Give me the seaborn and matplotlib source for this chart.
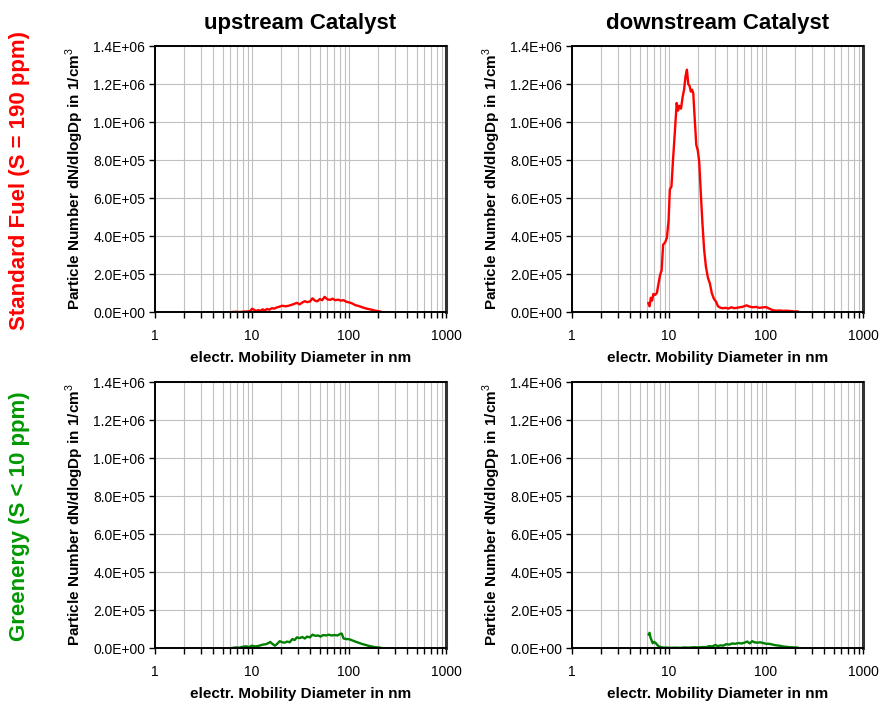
import matplotlib
matplotlib.use("Agg")
import matplotlib.pyplot as plt
from matplotlib.ticker import FuncFormatter, LogLocator, NullFormatter, MultipleLocator
import numpy as np
import pandas as pd
import seaborn as sns

# Particle size distributions (dN/dlogDp in 1/cm^3) vs. mobility diameter (nm)
std_up_d = [6.2, 6.8, 7.5, 8.2, 9.0, 9.6, 10.0, 10.5, 11.0, 11.6, 12.2, 12.9, 13.6, 14.3,
            15.1, 16, 17, 18, 19.2, 20.5, 22, 23.5, 25, 27, 29, 31, 33, 35, 37, 39.5, 42,
            44.5, 47, 50, 53, 56, 60, 64, 68, 72, 77, 82, 88, 94, 101, 108, 116, 125, 135,
            146, 158, 171, 186, 202, 214]
std_up_n = [0, 1e3, 0, 2e3, 3e3, 5e3, 17e3, 12e3, 5e3, 10e3, 6e3, 14e3, 8e3, 16e3,
            12e3, 20e3, 18e3, 24e3, 28e3, 33e3, 30e3, 32e3, 36e3, 42e3, 48e3, 40e3, 50e3,
            57e3, 52e3, 55e3, 72e3, 60e3, 56e3, 68e3, 62e3, 80e3, 66e3, 64e3, 70e3, 62e3,
            65e3, 60e3, 62e3, 54e3, 50e3, 45e3, 36e3, 32e3, 26e3, 20e3, 16e3, 12e3, 7e3,
            4e3, 2e3]

std_down_d = [6.1, 6.3, 6.5, 6.7, 6.9, 7.2, 7.5, 7.8, 8.1, 8.4, 8.7, 9.1, 9.5, 9.9, 10.2,
              10.6, 11.0, 11.5, 12.0, 12.4, 12.8, 13.3, 13.8, 14.3, 14.8, 15.3, 15.8, 16.3,
              16.8, 17.3, 17.8, 18.4, 19.1, 19.8, 20.5, 21.3, 22.1, 23.0, 24.0, 25.2, 26.4,
              27.6, 29.0, 30.5, 32.0, 34, 36, 38.5, 41, 44, 47, 50, 54, 58, 63, 68, 73, 79,
              85, 92, 100, 108, 117, 127, 138, 150, 163, 178, 195, 214]
std_down_n = [48e3, 30e3, 75e3, 60e3, 95e3, 90e3, 100e3, 150e3, 195e3, 220e3, 355e3,
              365e3, 390e3, 480e3, 645e3, 660e3, 800e3, 950e3, 1.10e6, 1.06e6, 1.085e6,
              1.07e6, 1.13e6, 1.17e6, 1.24e6, 1.275e6, 1.20e6, 1.19e6, 1.16e6, 1.17e6,
              1.15e6, 1.02e6, 880e3, 850e3, 790e3, 620e3, 470e3, 330e3, 240e3, 180e3,
              150e3, 100e3, 70e3, 55e3, 30e3, 22e3, 20e3, 22e3, 18e3, 25e3, 20e3, 22e3,
              25e3, 28e3, 35e3, 28e3, 25e3, 27e3, 22e3, 24e3, 26e3, 18e3, 10e3, 7e3, 8e3,
              6e3, 7e3, 5e3, 3e3, 3e3]

green_up_d = [6.2, 6.8, 7.4, 8.0, 8.7, 9.3, 10.0, 10.7, 11.4, 12.2, 13.0, 13.9, 14.8, 15.4,
              16.2, 17.2, 18.2, 19.3, 20.5, 21.8, 23.0, 24.5, 26.0, 27.5, 29, 31, 33, 35,
              37, 39.5, 42, 45, 48, 51, 54, 58, 62, 66, 71, 76, 81, 84, 88, 94, 101, 108,
              116, 125, 135, 146, 158, 171, 186, 202, 214]
green_up_n = [0, 3e3, 2e3, 6e3, 9e3, 5e3, 12e3, 8e3, 10e3, 14e3, 18e3, 20e3, 26e3, 32e3,
              22e3, 12e3, 22e3, 36e3, 30e3, 28e3, 34e3, 30e3, 47e3, 42e3, 56e3, 52e3, 58e3,
              50e3, 60e3, 56e3, 70e3, 64e3, 66e3, 60e3, 68e3, 66e3, 70e3, 66e3, 68e3, 66e3,
              74e3, 76e3, 50e3, 47e3, 46e3, 40e3, 34e3, 28e3, 22e3, 17e3, 12e3, 8e3, 4e3,
              3e3, 1e3]

green_down_d = [6.15, 6.3, 6.45, 6.6, 6.8, 7.0, 7.3, 7.6, 7.9, 8.3, 8.8, 9.5, 10.5, 11.5,
                13, 14.5, 16, 18, 20, 22, 24, 26, 28, 30, 32, 34, 36, 39, 42, 45, 48, 52,
                56, 60, 64, 68, 72, 76, 81, 87, 94, 101, 108, 117, 127, 138, 150, 163, 178,
                195, 214]
green_down_n = [70e3, 80e3, 55e3, 42e3, 25e3, 32e3, 26e3, 15e3, 8e3, 4e3, 2e3, 2e3, 1e3,
                2e3, 1e3, 3e3, 2e3, 4e3, 3e3, 5e3, 4e3, 10e3, 8e3, 16e3, 10e3, 14e3, 12e3,
                20e3, 18e3, 24e3, 22e3, 26e3, 24e3, 28e3, 34e3, 24e3, 36e3, 30e3, 28e3,
                30e3, 26e3, 22e3, 22e3, 18e3, 14e3, 12e3, 8e3, 6e3, 4e3, 3e3, 2e3]

col_titles = ["upstream Catalyst", "downstream Catalyst"]
row_titles = ["Standard Fuel (S = 190 ppm)", "Greenergy (S < 10 ppm)"]
x_ticks = [1, 10, 100, 1000]
x_tick_labels = ["1", "10", "100", "1000"]
x_label = "electr. Mobility Diameter in nm"
y_label = "Particle Number dN/dlogDp in 1/cm$^3$"

RED = "#FF0000"
GREEN_LINE = "#008000"
GREEN_TEXT = "#009900"

sns.set_theme(style="white")
plt.rcParams["font.family"] = ["Liberation Sans", "DejaVu Sans"]
plt.rcParams["mathtext.fontset"] = "custom"
plt.rcParams["mathtext.rm"] = "Liberation Sans"
plt.rcParams["mathtext.bf"] = "Liberation Sans:bold"
for key in ("text.color", "axes.labelcolor", "xtick.color", "ytick.color",
            "axes.titlecolor"):
    plt.rcParams[key] = "black"

fig = plt.figure(figsize=(8.8, 7.07), dpi=100)

panels = [
    (0, 0, std_up_d, std_up_n, RED),
    (0, 1, std_down_d, std_down_n, RED),
    (1, 0, green_up_d, green_up_n, GREEN_LINE),
    (1, 1, green_down_d, green_down_n, GREEN_LINE),
]

lefts = [155 / 880, 572 / 880]
bottoms = [1 - 312 / 707, 1 - 648 / 707]
w = 291 / 880
h = 266 / 707

for r, c, d, n, color in panels:
    ax = fig.add_axes([lefts[c], bottoms[r], w, h])
    df = pd.DataFrame({"d": d, "n": n})
    sns.lineplot(data=df, x="d", y="n", ax=ax, color=color, linewidth=1.7,
                 estimator=None, sort=False)
    ax.set_xscale("log")
    ax.set_xlim(1, 1000)
    ax.set_ylim(0, 1.4e6)
    ax.xaxis.set_minor_locator(LogLocator(base=10, subs=np.arange(2, 10), numticks=20))
    ax.set_xticks(x_ticks)
    ax.set_xticklabels(x_tick_labels)
    ax.xaxis.set_minor_formatter(NullFormatter())
    ax.yaxis.set_major_locator(MultipleLocator(2e5))
    ax.yaxis.set_major_formatter(FuncFormatter(lambda v, p: f"{v:.1E}"))
    ax.grid(True, which="major", axis="both", color="#c0c0c0", linewidth=0.8)
    ax.grid(True, which="minor", axis="x", color="#c0c0c0", linewidth=0.8)
    ax.set_axisbelow(True)
    for s in ax.spines.values():
        s.set_visible(True)
        s.set_color("black")
        s.set_linewidth(1.4)
    ax.spines["right"].set_color("#333333")
    ax.spines["right"].set_linewidth(2.2)
    ax.tick_params(axis="both", which="major", direction="out", length=4, width=1,
                   color="black", labelsize=10, bottom=True, left=True)
    ax.tick_params(axis="y", which="major", pad=3)
    ax.tick_params(axis="x", which="major", pad=8)
    ax.tick_params(axis="x", which="minor", direction="out", length=4, width=1,
                   color="black", bottom=True)
    ax.set_xlabel(x_label, fontsize=11, fontweight="bold", labelpad=6)
    ax.set_ylabel(y_label, fontsize=11, fontweight="bold", labelpad=5)
    if r == 0:
        ax.set_title(col_titles[c], fontsize=16, fontweight="bold", pad=12)

fig.text(20 / 880, 1 - 180 / 707, row_titles[0], rotation=90, color=RED,
         fontsize=16, fontweight="bold", ha="center", va="center")
fig.text(20 / 880, 1 - 516 / 707, row_titles[1], rotation=90, color=GREEN_TEXT,
         fontsize=16, fontweight="bold", ha="center", va="center")

fig.savefig("out.png", dpi=100)
